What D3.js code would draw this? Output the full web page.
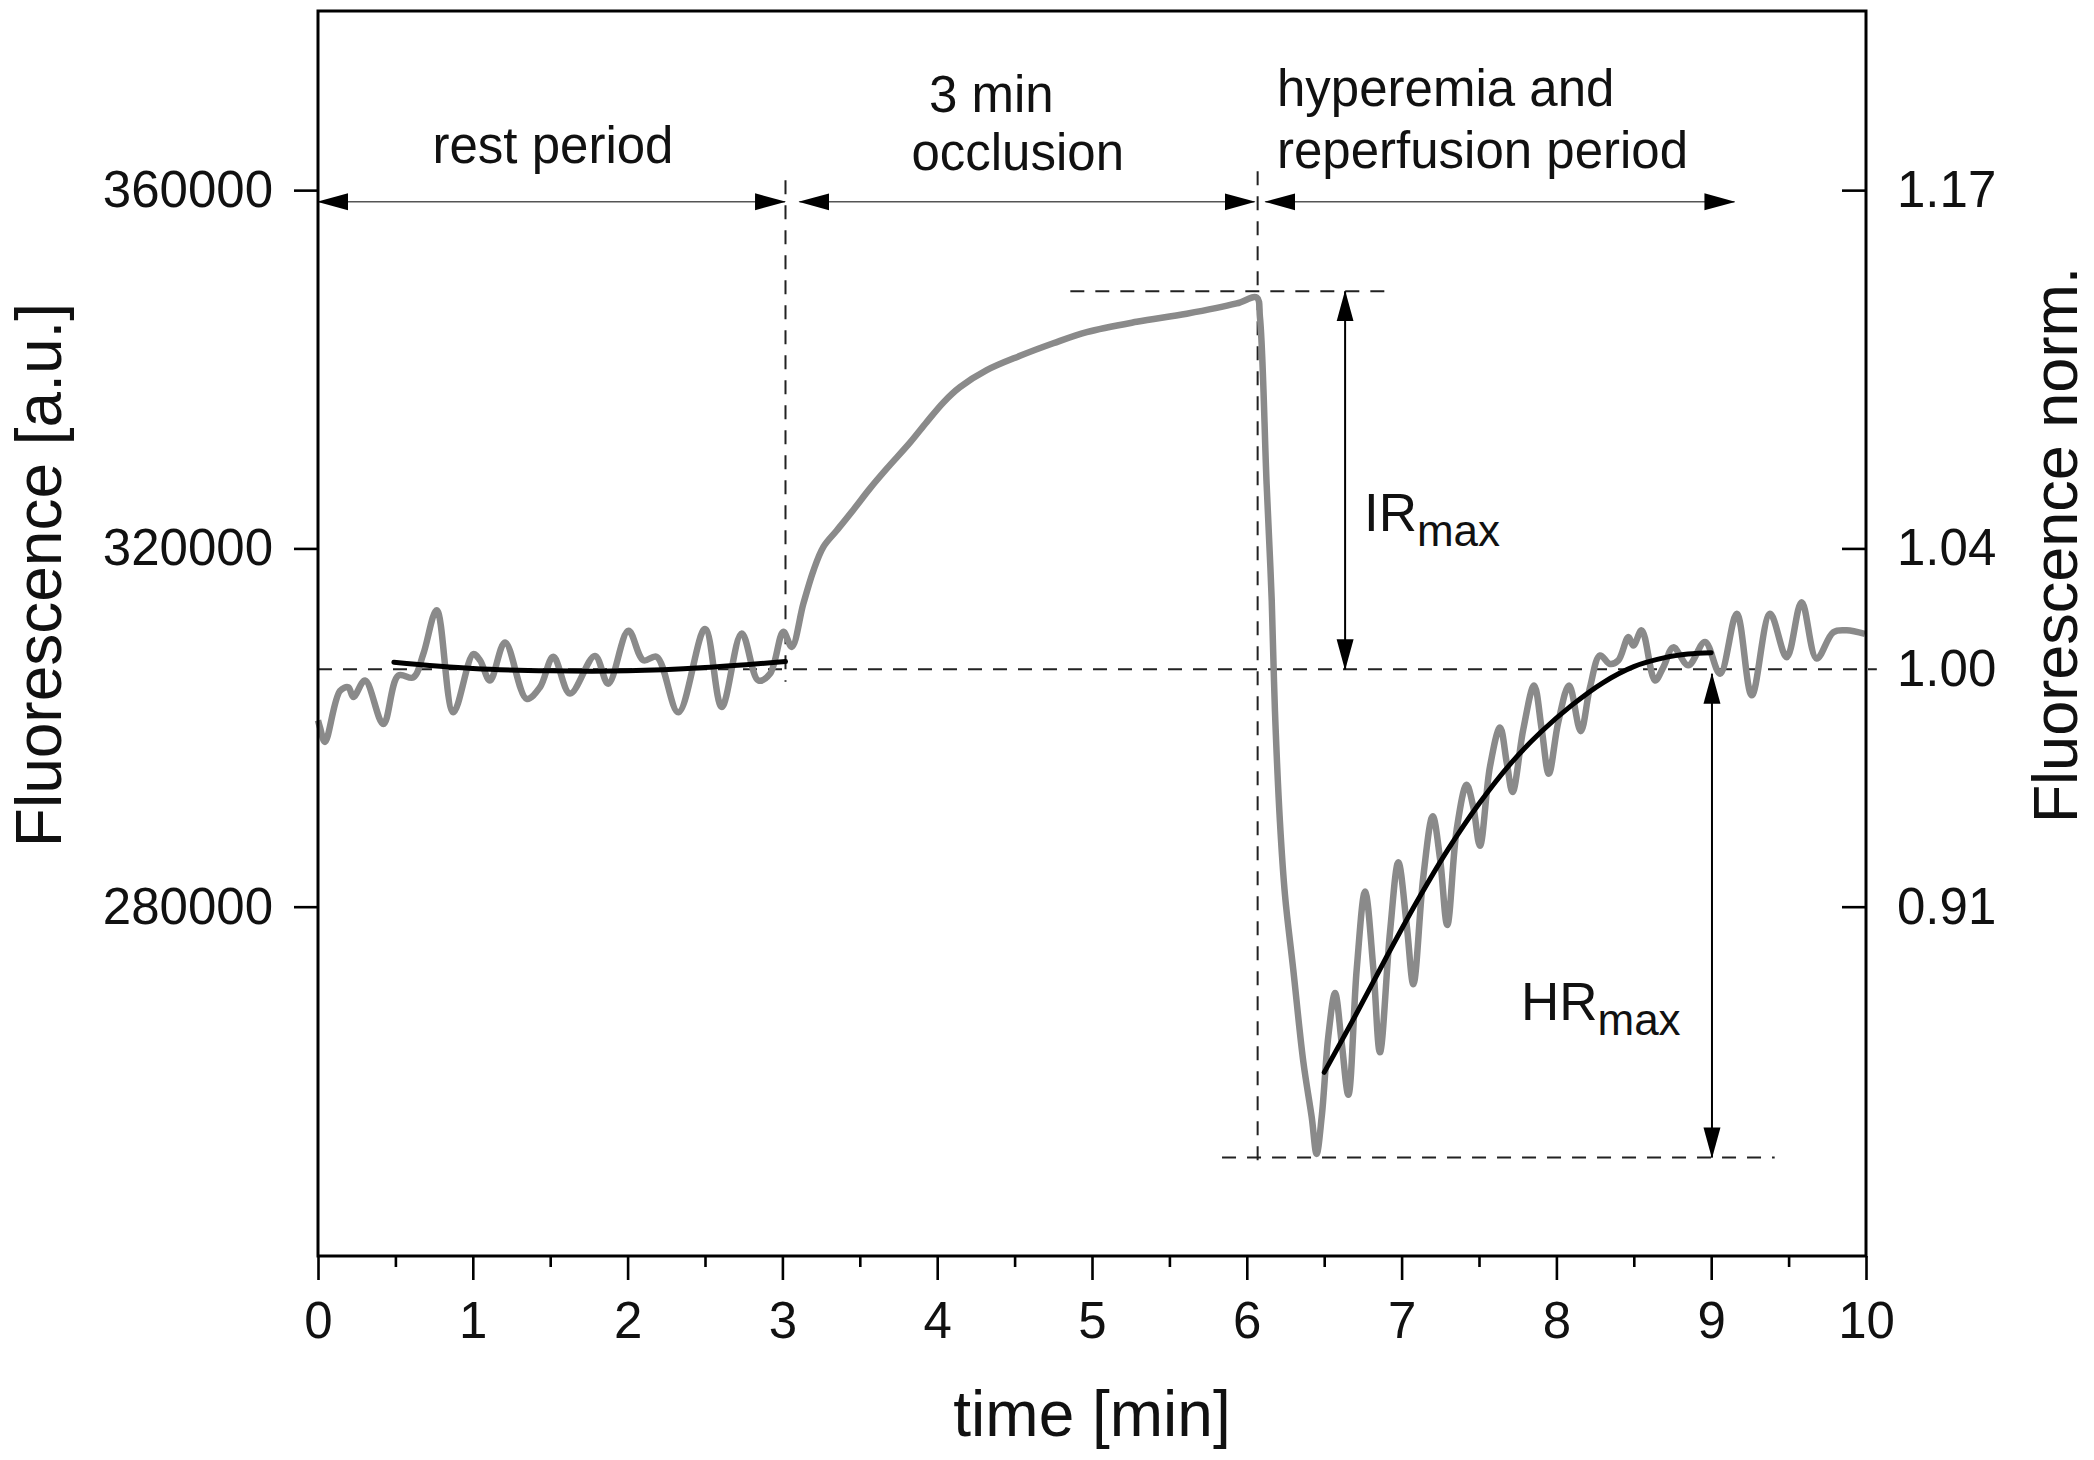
<!DOCTYPE html>
<html>
<head>
<meta charset="utf-8">
<script src="https://cdn.jsdelivr.net/npm/d3@7"></script>
<style>
  html, body { margin: 0; padding: 0; background: #fff; }
  svg { display: block; font-family: "Liberation Sans", Arial, Helvetica, sans-serif; }
</style>
</head>
<body>
<div id="chart"></div>
<script>
// measured trace (time in min, fluorescence in a.u.)
const traceTime = [0.00, 0.013, 0.045, 0.142, 0.196, 0.228, 0.304, 0.422, 0.519, 0.616, 0.680, 0.767, 0.874,
  1.003, 1.047, 1.111, 1.208, 1.348, 1.434, 1.520, 1.628, 1.789, 1.875, 2.005, 2.102, 2.188, 2.328, 2.500,
  2.608, 2.737, 2.845, 2.920, 3.006, 3.060, 3.135, 3.200, 3.264, 3.351, 3.458, 3.566, 3.674, 3.824, 3.932,
  4.040, 4.147, 4.320, 4.535, 4.750, 4.966, 5.289, 5.612, 5.935, 6.064, 6.085, 6.128, 6.161, 6.182, 6.214,
  6.247, 6.300, 6.365, 6.419, 6.451, 6.484, 6.527, 6.570, 6.613, 6.656, 6.710, 6.764, 6.818, 6.860, 6.925,
  6.979, 7.033, 7.076, 7.140, 7.201, 7.248, 7.295, 7.356, 7.420, 7.463, 7.506, 7.571, 7.636, 7.680, 7.717,
  7.786, 7.856, 7.905, 7.951, 8.012, 8.082, 8.157, 8.217, 8.282, 8.346, 8.400, 8.465, 8.497, 8.551, 8.637,
  8.691, 8.755, 8.852, 8.960, 9.057, 9.165, 9.262, 9.380, 9.488, 9.584, 9.681, 9.789, 9.875, 9.993];
const traceValue = [300800, 300000, 298400, 304100, 304500, 303400, 305250, 300400, 305800, 305600, 308200, 313100, 301700,
  308200, 307500, 305250, 309500, 303200, 304500, 307900, 303800, 308000, 304900, 310800, 307500, 307900, 301700, 311000,
  302300, 310500, 305250, 306000, 310700, 309000, 313800, 317500, 320150, 322000, 324300, 326700, 328900, 331800, 334100,
  336300, 338000, 339900, 341500, 342900, 344150, 345300, 346200, 347350, 348000, 345800, 327200, 314200, 301800, 289500,
  281250, 273000, 262700, 256550, 252400, 256550, 265600, 270350, 264800, 259000, 273000, 281700, 273000, 263750, 277150,
  284950, 277950, 271350, 283300, 290100, 285400, 277950, 288650, 293600, 291150, 286800, 295650, 300000, 296000, 292800,
  299800, 304700, 299800, 294850, 300600, 304700, 299600, 304500, 308050, 307100, 307500, 310100, 309150, 310850, 305250,
  306750, 308950, 306950, 309550, 306000, 312700, 303600, 312700, 307850, 314000, 307700, 310650, 310850, 310450];

// fitted curves
const restFitTime = [0.49, 1.0, 1.5, 2.0, 2.5, 3.02];
const restFitValue = [307300, 306600, 306330, 306330, 306700, 307370];
const recFitTime = [6.5, 6.7, 6.9, 7.1, 7.3, 7.5, 7.7, 7.9, 8.1, 8.3, 8.5, 8.7, 8.85, 9.0];
const recFitValue = [261500, 267800, 274300, 280600, 286400, 291500, 295900, 299500, 302500, 305000, 306800, 307800, 308200, 308350];

// reference levels
const baseLevel = 306500;   // rest mean -> 1.00
const occlusionMax = 348700;
const hyperemiaMin = 252000;
const phaseEdges = [3.02, 6.07];

// axes
const xDomain = [0, 10];
const yDomain = [241000, 380000];
const xMajorTicks = d3.range(0, 11, 1);
const xMinorTicks = d3.range(0.5, 10, 1);
const yTicks = [280000, 320000, 360000];
const yRightLabels = ["0.91", "1.04", "1.17"];

// period arrows: [from, to] in minutes
const periodArrows = [[0, 3.017], [3.11, 6.05], [6.12, 9.15]];
const periodArrowLevel = 358700;

const periodLabels = [
  { text: "rest period", t: 1.518, v: 363000, anchor: "middle" },
  { text: "3 min", t: 4.35, v: 368700, anchor: "middle" },
  { text: "occlusion", t: 4.52, v: 362200, anchor: "middle" },
  { text: "hyperemia and", t: 6.195, v: 369400, anchor: "start" },
  { text: "reperfusion period", t: 6.195, v: 362450, anchor: "start" }
];

const W = 2094, H = 1460;
const margin = { top: 11, right: 228, bottom: 204, left: 318 };

const svg = d3.select("#chart").append("svg")
  .attr("width", W).attr("height", H);

const x = d3.scaleLinear().domain(xDomain).range([margin.left, W - margin.right]);
const y = d3.scaleLinear().domain(yDomain).range([H - margin.bottom, margin.top]);

const defs = svg.append("defs");
defs.append("marker")
  .attr("id", "head")
  .attr("markerUnits", "userSpaceOnUse")
  .attr("viewBox", "0 -9 31 18")
  .attr("refX", 30).attr("refY", 0)
  .attr("markerWidth", 31).attr("markerHeight", 18)
  .attr("orient", "auto-start-reverse")
  .append("path")
  .attr("d", "M0,-8.5L31,0L0,8.5Z")
  .attr("fill", "#000");

const dash = "14,11";
const guides = svg.append("g").attr("stroke", "#222").attr("stroke-width", 2)
  .attr("stroke-dasharray", dash).attr("fill", "none");

// baseline
guides.append("line")
  .attr("x1", x(0)).attr("x2", x(10.07))
  .attr("y1", y(baseLevel)).attr("y2", y(baseLevel));
// phase boundaries
guides.append("line")
  .attr("x1", x(phaseEdges[0])).attr("x2", x(phaseEdges[0]))
  .attr("y1", y(361100)).attr("y2", y(305100));
guides.append("line")
  .attr("x1", x(phaseEdges[1])).attr("x2", x(phaseEdges[1]))
  .attr("y1", y(362100)).attr("y2", y(250700));
// IRmax / HRmax levels
guides.append("line")
  .attr("x1", x(4.86)).attr("x2", x(6.91))
  .attr("y1", y(occlusionMax)).attr("y2", y(occlusionMax));
guides.append("line")
  .attr("x1", x(5.84)).attr("x2", x(9.41))
  .attr("y1", y(hyperemiaMin)).attr("y2", y(hyperemiaMin));

// trace
const line = d3.line().curve(d3.curveCatmullRom.alpha(0.5));
svg.append("path")
  .attr("d", line(traceTime.map((t, i) => [x(t), y(traceValue[i])])))
  .attr("fill", "none")
  .attr("stroke", "#8a8a8a")
  .attr("stroke-width", 6.5)
  .attr("stroke-linejoin", "round");

// fits
[[restFitTime, restFitValue], [recFitTime, recFitValue]].forEach(([ts, vs]) => {
  svg.append("path")
    .attr("d", line(ts.map((t, i) => [x(t), y(vs[i])])))
    .attr("fill", "none")
    .attr("stroke", "#000")
    .attr("stroke-width", 5)
    .attr("stroke-linecap", "round");
});

// period arrows
svg.append("g").selectAll("line")
  .data(periodArrows)
  .join("line")
  .attr("x1", d => x(d[0])).attr("x2", d => x(d[1]))
  .attr("y1", y(periodArrowLevel)).attr("y2", y(periodArrowLevel))
  .attr("stroke", "#555").attr("stroke-width", 1.6)
  .attr("marker-start", "url(#head)")
  .attr("marker-end", "url(#head)");

// IRmax and HRmax arrows
const vArrows = [
  { t: 6.635, from: occlusionMax, to: baseLevel },
  { t: 9.005, from: 306000, to: hyperemiaMin }
];
svg.append("g").selectAll("line")
  .data(vArrows)
  .join("line")
  .attr("x1", d => x(d.t)).attr("x2", d => x(d.t))
  .attr("y1", d => y(d.from)).attr("y2", d => y(d.to))
  .attr("stroke", "#000").attr("stroke-width", 2)
  .attr("marker-start", "url(#head)")
  .attr("marker-end", "url(#head)");

// period labels
svg.append("g").selectAll("text")
  .data(periodLabels)
  .join("text")
  .attr("x", d => x(d.t)).attr("y", d => y(d.v))
  .attr("text-anchor", d => d.anchor)
  .attr("font-size", 51)
  .attr("fill", "#111")
  .text(d => d.text);

// IRmax / HRmax labels
const rLabels = [
  { main: "IR", t: 6.757, v: 321900 },
  { main: "HR", t: 7.771, v: 267300 }
];
rLabels.forEach(d => {
  const txt = svg.append("text")
    .attr("x", x(d.t)).attr("y", y(d.v))
    .attr("font-size", 53).attr("fill", "#111");
  txt.append("tspan").text(d.main);
  txt.append("tspan").attr("font-size", 44).attr("dy", 15).text("max");
});

// axes
const axisFont = g => g.selectAll("text").attr("font-size", 51).attr("fill", "#111")
  .attr("font-family", '"Liberation Sans", Arial, sans-serif');

const gx = svg.append("g")
  .attr("transform", `translate(0,${H - margin.bottom})`)
  .call(d3.axisBottom(x).tickValues(xMajorTicks).tickFormat(d3.format("d"))
    .tickSize(24).tickPadding(22));
gx.call(axisFont);
gx.select(".domain").remove();
gx.selectAll("line").attr("stroke-width", 2.6);

const gxm = svg.append("g")
  .attr("transform", `translate(0,${H - margin.bottom})`)
  .call(d3.axisBottom(x).tickValues(xMinorTicks).tickFormat("").tickSize(11));
gxm.select(".domain").remove();
gxm.selectAll("line").attr("stroke-width", 2.6);

const gy = svg.append("g")
  .attr("transform", `translate(${margin.left},0)`)
  .call(d3.axisLeft(y).tickValues(yTicks).tickFormat(d3.format("d"))
    .tickSize(24).tickPadding(21));
gy.call(axisFont);
gy.select(".domain").remove();
gy.selectAll("line").attr("stroke-width", 2.6);

// right axis: normalised labels at the left tick positions, plus 1.00 at the baseline
const gyr = svg.append("g")
  .attr("transform", `translate(${W - margin.right},0)`)
  .call(d3.axisRight(y).tickValues(yTicks.concat([baseLevel]))
    .tickFormat(d => d === baseLevel ? "1.00" : yRightLabels[yTicks.indexOf(d)])
    .tickSizeInner(-24).tickSizeOuter(0).tickPadding(31));
gyr.call(axisFont);
gyr.select(".domain").remove();
gyr.selectAll("line").attr("stroke-width", 2.6);
gyr.selectAll(".tick").filter(d => d === baseLevel).select("line").remove();

// frame
svg.append("rect")
  .attr("x", margin.left).attr("y", margin.top)
  .attr("width", W - margin.left - margin.right)
  .attr("height", H - margin.top - margin.bottom)
  .attr("fill", "none").attr("stroke", "#000").attr("stroke-width", 3);

// axis titles
svg.append("text")
  .attr("transform", "translate(61,575) rotate(-90)")
  .attr("text-anchor", "middle").attr("font-size", 64).attr("fill", "#111")
  .text("Fluorescence [a.u.]");
svg.append("text")
  .attr("transform", "translate(2077,545) rotate(-90)")
  .attr("text-anchor", "middle").attr("font-size", 63).attr("fill", "#111")
  .text("Fluorescence norm.");
svg.append("text")
  .attr("x", (margin.left + W - margin.right) / 2).attr("y", 1436)
  .attr("text-anchor", "middle").attr("font-size", 64).attr("fill", "#111")
  .text("time [min]");
</script>
</body>
</html>
